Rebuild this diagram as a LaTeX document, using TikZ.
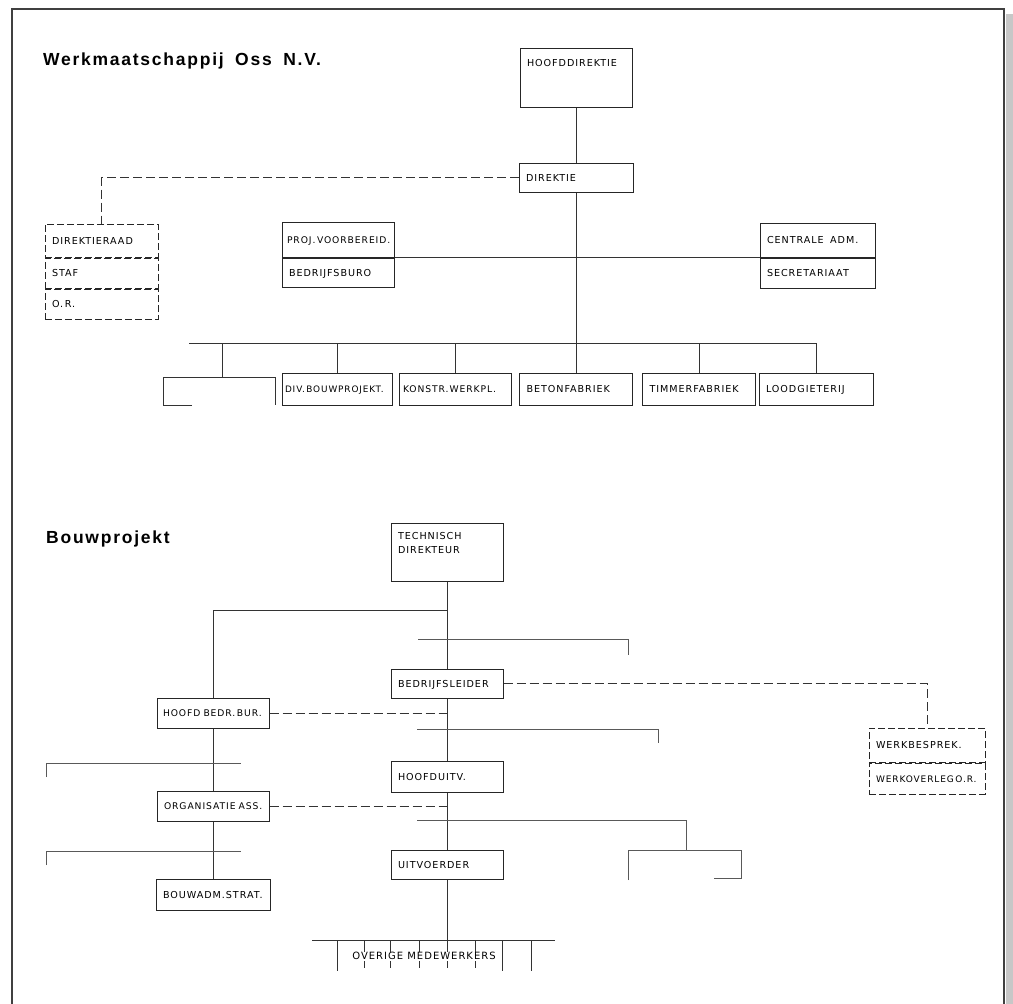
\documentclass[tikz,border=0pt]{standalone}
\usepackage{fontspec}
\setmainfont{DejaVu Sans}[LetterSpace=10]
\newfontfamily\headfont{Liberation Sans}[LetterSpace=10]
\usetikzlibrary{positioning}

\begin{document}
\begin{tikzpicture}[
      x=1pt, y=-1pt,
      font=\fontsize{9.6}{11}\selectfont,
      node distance=0pt,
      box/.style={draw=black!85, line width=1pt, inner xsep=7pt,
                  inner ysep=0pt, align=left, text height=7pt,
                  text depth=0pt, text width=#1},
      dbox/.style={box=#1, dash pattern=on 7pt off 3pt},
      conn/.style={draw=black!80, line width=0.8pt},
      dline/.style={conn, dash pattern=on 9pt off 4pt},
      stub/.style={draw=black!65, line width=0.8pt},
      small/.style={font=\fontsize{#1}{11}\selectfont},
      title/.style={font=\headfont\bfseries\fontsize{17.5}{19}\selectfont,
                    anchor=base west, inner sep=0pt},
    ]
    \useasboundingbox (0,0) rectangle (1013,1004);

    % --- sheet frame and shadow --------------------------------------------
    \fill[black!22] (1006,14) rectangle (1013,1004);
    \draw[black!75, line width=1.2pt] (12,1010) -- (12,9) -- (1004,9)
                                      -- (1004,1010);

    % --- Werkmaatschappij Oss N.V. -----------------------------------------
    \node[title] (t-wm) at (43,65) {Werkmaatschappij\; Oss\; N.V.};

    \node[box=98pt, minimum height=0pt, text height=17.5pt,
          text depth=41.5pt] (hoofddir) at (576,48) [anchor=north]
          {HOOFDDIREKTIE};
    \node[box=100pt, minimum height=29pt] (direktie) at (576,177.5)
          {DIREKTIE};

    \node[dbox=99pt, minimum height=33pt] (draad) at (101.5,240.5)
          {DIREKTIERAAD};
    \node[dbox=99pt, minimum height=30pt, below=of draad] (staf) {STAF};
    \node[dbox=99pt, minimum height=30pt, below=of staf] (or) {O.\,R.};

    \node[box=98pt, minimum height=35pt, inner xsep=5pt, text width=102pt,
          small=9.2] (projvb) at (338,239.5) {PROJ.\,VOORBEREID.};
    \node[box=98pt, minimum height=29pt, below=of projvb] (bbur)
          {BEDRIJFSBURO};

    \node[box=101pt, minimum height=34pt] (centrale) at (817.5,240)
          {CENTRALE\ \ ADM.};
    \node[box=101pt, minimum height=30pt, below=of centrale] (secr)
          {SECRETARIAAT};

    % --- bottom row --------------------------------------------------------
    \node[box=104pt, minimum height=32pt, inner xsep=3pt, small=8.9]
          (div) at (337,389) {DIV.\,BOUWPROJEKT.};
    \node[box=104pt, minimum height=32pt, inner xsep=4pt, small=9.2]
          (konstr) at (455,389) {KONSTR.WERKPL.};
    \node[box=99pt, minimum height=32pt] (beton) at (576,389)
          {BETONFABRIEK};
    \node[box=99pt, minimum height=32pt] (timmer) at (699,389)
          {TIMMERFABRIEK};
    \node[box=100pt, minimum height=32pt] (lood) at (816,389)
          {LOODGIETERIJ};

    \coordinate (busw) at (189,343);
    \coordinate (open) at (222,377);

    \draw[conn] (hoofddir.south) -- (direktie.north);
    \draw[conn] (direktie.south) -- (beton.north);
    \draw[dline] (direktie.west) -| (draad.north);
    \draw[conn] (projvb.south east) -- (centrale.south west);

    \draw[conn] (busw) -- (busw -| lood.north);
    \foreach \n in {div,konstr,timmer,lood}
      \draw[conn] (\n.north) -- (\n.north |- busw);
    \draw[conn] (busw -| open) -- (open);
    \draw[conn] (192,405) -- (163,405) -- (163,377) -- (275,377)
                -- (275,405);

    % --- Bouwprojekt -------------------------------------------------------
    \node[title] (t-bp) at (46,543) {Bouwprojekt};

    \node[box=98pt, minimum height=0pt, text height=15.5pt,
          text depth=42.5pt, font=\fontsize{9.6}{14}\selectfont]
          (techdir) at (447,523) [anchor=north] {TECHNISCH\\DIREKTEUR};
    \node[box=98pt, minimum height=29pt] (bedrl) at (447,683.5)
          {BEDRIJFSLEIDER};
    \node[box=98pt, minimum height=31pt] (hoofduitv) at (447,776.5)
          {HOOFDUITV.};
    \node[box=98pt, minimum height=29pt] (uitv) at (447,864.5)
          {UITVOERDER};

    \node[box=100pt, minimum height=30pt, inner xsep=6pt, small=9.2]
          (hbb) at (213,713) {HOOFD BEDR.\,BUR.};
    \node[box=98pt, minimum height=30pt, small=9.2] (orgass) at (213,806)
          {ORGANISATIE ASS.};
    \node[box=100pt, minimum height=31pt] (bouwadm) at (213,894.5)
          {BOUWADM.STRAT.};

    \node[dbox=102pt, minimum height=34pt] (werkb) at (927,745)
          {WERKBESPREK.};
    \node[dbox=102pt, minimum height=31pt, below=of werkb, small=9.0]
          (werkov) {WERKOVERLEG\,O.R.};

    \coordinate (t1) at (447,610);
    \coordinate (ovend) at (447,968);

    \draw[conn] (techdir.south) -- (bedrl.north);
    \draw[conn] (bedrl.south) -- (hoofduitv.north);
    \draw[conn] (hoofduitv.south) -- (uitv.north);
    \draw[conn] (uitv.south) -- (ovend);
    \draw[conn] (t1) -| (hbb.north);
    \draw[conn] (hbb.south) -- (orgass.north);
    \draw[conn] (orgass.south) -- (bouwadm.north);

    \draw[dline] (hbb.east) -- (hbb.east -| bedrl.south);
    \draw[dline] (orgass.east) -- (orgass.east -| hoofduitv.south);
    \draw[dline] (bedrl.east) -| (werkb.north);

    % --- loose branches, left open ---------------------------------------
    \draw[stub] (418,639) -- (628,639) -- (628,655);
    \draw[stub] (417,729) -- (658,729) -- (658,743);
    \draw[stub] (417,820) -- (686,820) -- (686,850);
    \draw[stub] (628,880) -- (628,850) -- (741,850) -- (741,878)
                -- (714,878);
    \draw[stub] (46,777) -- (46,763) -- (241,763);
    \draw[stub] (46,865) -- (46,851) -- (241,851);

    % --- staff under the uitvoerder ---------------------------------------
    \draw[conn] (312,940) -- (555,940);
    \foreach \x in {337,502,531}
      \draw[conn] (\x,940) -- (\x,971);
    \foreach \x in {364,390,419,475}
      \draw[conn] (\x,940) -- (\x,968);
    \node[fill=white, inner xsep=0pt, inner ysep=1pt, text height=7pt,
          text depth=0pt, small=10] (overige) at (424,956)
          {OVERIGE MEDEWERKERS};
  \end{tikzpicture}
\end{document}
